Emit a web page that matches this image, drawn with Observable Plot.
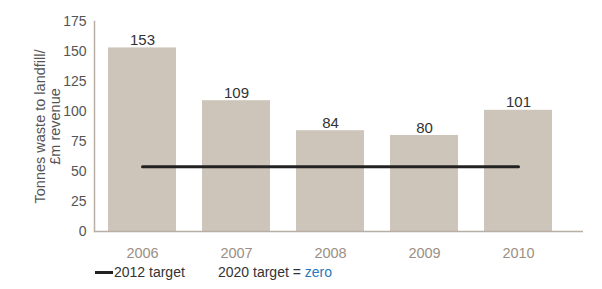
<!DOCTYPE html>
<html>
<head>
<meta charset="utf-8">
<script src="https://cdn.jsdelivr.net/npm/d3@7"></script>
<script src="https://cdn.jsdelivr.net/npm/@observablehq/plot@0.6"></script>
<style>
  body { margin: 0; background: #fff; font-family: "Liberation Sans", Arial, sans-serif; }
  #wrap { width: 602px; }
  .legend { position: relative; height: 24px; font-size: 14px; color: #333; }
  .legend .item { position: absolute; top: 4px; white-space: nowrap; }
  .legend .swatch { display: inline-block; width: 18px; height: 3px; background: #222; vertical-align: middle; margin-right: 1px; position: relative; top: -1px; }
  .legend .zero { color: #2a7ab9; }
</style>
</head>
<body>
<div id="wrap"></div>
<script>
const years = ["2006", "2007", "2008", "2009", "2010"];
const values = [153, 109, 84, 80, 101];
const yTicks = [0, 25, 50, 75, 100, 125, 150, 175];
const targetValue = 54;
const targetSpan = ["2006", "2010"];
const yLabel = "Tonnes waste to landfill/\n£m revenue";

const data = years.map((y, i) => ({year: y, value: values[i]}));
const targetLine = targetSpan.map(y => ({year: y, value: targetValue}));

const chart = Plot.plot({
  width: 602,
  height: 260,
  marginLeft: 94,
  marginRight: 19,
  marginTop: 21,
  marginBottom: 29,
  style: {fontFamily: "Liberation Sans, Arial, sans-serif", background: "#fff"},
  x: {domain: years, insetRight: 18, paddingInner: 0.28, paddingOuter: 0.14, label: null},
  y: {domain: [0, 175], label: null},
  marks: [
    Plot.barY(data, {x: "year", y: "value", fill: "#cdc5b9"}),
    Plot.frame({anchor: "left", stroke: "#b8aea3", strokeWidth: 1.5}),
    Plot.ruleY([0], {stroke: "#b8aea3", strokeWidth: 1.5}),
    Plot.line(targetLine, {x: "year", y: "value", stroke: "#222", strokeWidth: 3}),
    Plot.text(data, {x: "year", y: "value", text: d => String(d.value), dy: -3, lineAnchor: "bottom", fontSize: 15, fill: "#333"}),
    Plot.axisX({tickSize: 0, tickPadding: 16, fontSize: 14.5, color: "#9b8f84", label: null}),
    Plot.axisY({ticks: yTicks, tickSize: 0, tickPadding: 8, fontSize: 14, color: "#555", label: null}),
    Plot.text([yLabel], {frameAnchor: "left", rotate: -90, dx: -47, text: d => d, fontSize: 14.5, fill: "#555", textAnchor: "middle", lineAnchor: "middle", lineHeight: 1.05})
  ]
});

const wrap = document.getElementById("wrap");
wrap.appendChild(chart);
const legend = document.createElement("div");
legend.className = "legend";
legend.innerHTML = '<span class="item" style="left:95px"><span class="swatch"></span>2012 target</span>' +
  '<span class="item" style="left:218px">2020 target = <span class="zero">zero</span></span>';
wrap.appendChild(legend);
</script>
</body>
</html>
